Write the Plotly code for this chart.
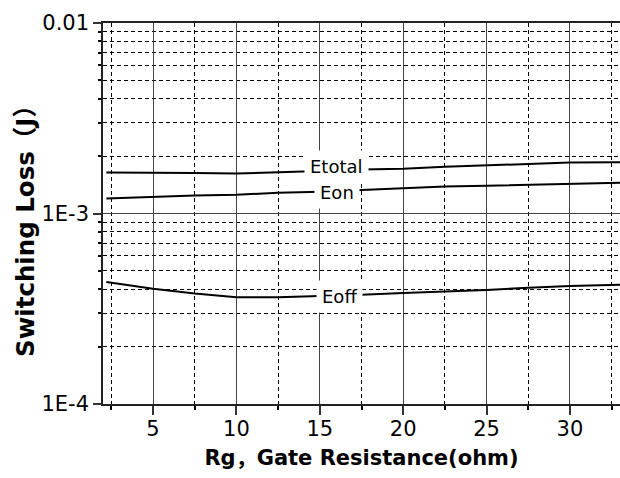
import math
import plotly.graph_objects as go

# ---- data ----
rg = [2.2, 5, 7.5, 10, 12.5, 15, 17.5, 20, 22.5, 25, 27.5, 30, 33]
etotal = [1.64e-3, 1.64e-3, 1.63e-3, 1.62e-3, 1.64e-3, 1.67e-3, 1.70e-3, 1.72e-3, 1.76e-3, 1.79e-3, 1.83e-3, 1.85e-3, 1.86e-3]
eon = [1.20e-3, 1.224e-3, 1.242e-3, 1.254e-3, 1.285e-3, 1.30e-3, 1.33e-3, 1.36e-3, 1.386e-3, 1.40e-3, 1.415e-3, 1.434e-3, 1.45e-3]
eoff = [4.37e-4, 4.03e-4, 3.80e-4, 3.63e-4, 3.63e-4, 3.67e-4, 3.74e-4, 3.82e-4, 3.88e-4, 3.97e-4, 4.07e-4, 4.16e-4, 4.23e-4]

series_names = ["Etotal", "Eon", "Eoff"]
label_x = [16.0, 16.05, 16.2]
label_y = [1.768e-3, 1.285e-3, 3.666e-4]

x_major = [5, 10, 15, 20, 25, 30]
x_minor = [2.5, 7.5, 12.5, 17.5, 22.5, 27.5, 32.5]
y_major = [1e-4, 1e-3, 1e-2]
y_major_text = ["1E-4", "1E-3", "0.01"]
y_minor = [m * 10 ** e for e in (-4, -3) for m in range(2, 10)]

CJK = "font-family:'Noto Sans CJK SC'"
x_title = "Rg<span style=\"%s\">，</span>Gate Resistance(ohm)" % CJK
y_title = "Switching Loss<span style=\"%s\">（</span>J<span style=\"%s\">）</span>" % (CJK, CJK)

W, H = 620, 478
ML, MR, MT, MB = 103, 0, 23, 74
PW, PH = W - ML - MR, H - MT - MB

fig = go.Figure()
for name, ys in zip(series_names, [etotal, eon, eoff]):
    fig.add_trace(go.Scatter(x=rg, y=ys, mode="lines", name=name,
                             line=dict(color="black", width=2), showlegend=False))

for name, lx, ly in zip(series_names, label_x, label_y):
    fig.add_annotation(x=lx, y=math.log10(ly), yref="y", xref="x", text=name, showarrow=False,
                       font=dict(family="DejaVu Sans", size=18, color="black"),
                       bgcolor="white", borderpad=5)

fig.add_annotation(x=(23 - ML) / PW, y=(H - MB - 225) / PH, xref="paper", yref="paper",
                   xanchor="center", yanchor="middle", text=y_title, showarrow=False,
                   textangle=-90,
                   font=dict(family="DejaVu Sans", size=24.5, color="black", weight="bold"))

fig.update_layout(
    width=W, height=H,
    margin=dict(l=ML, r=MR, t=MT, b=MB, autoexpand=False),
    paper_bgcolor="white", plot_bgcolor="white",
    font=dict(family="DejaVu Sans", color="black"),
)

fig.update_xaxes(
    range=[2, 33], tickmode="array", tickvals=x_major,
    ticks="outside", ticklen=9, tickwidth=1.5, tickcolor="#333",
    ticklabelstandoff=-4,
    tickfont=dict(family="DejaVu Sans", size=21, color="black"),
    showline=True, linecolor="#222", linewidth=1.5, mirror=True,
    showgrid=True, gridcolor="#444", gridwidth=1.3,
    zeroline=False,
    minor=dict(tickmode="array", tickvals=x_minor, showgrid=True, gridcolor="black",
               griddash="4px,3px", gridwidth=1, ticks="outside", ticklen=4, tickcolor="black"),
    title=dict(text=x_title, font=dict(family="DejaVu Sans", size=21, color="black", weight="bold"),
               standoff=8),
)
fig.update_yaxes(
    type="log", range=[-4, -2], tickmode="array", tickvals=y_major, ticktext=y_major_text,
    ticks="outside", ticklen=8, tickwidth=1.5, tickcolor="#333",
    tickfont=dict(family="DejaVu Sans", size=21, color="black"),
    showline=True, linecolor="#222", linewidth=1.5,
    showgrid=True, gridcolor="#444", gridwidth=1.3,
    zeroline=False,
    minor=dict(tickmode="array", tickvals=y_minor, showgrid=True, gridcolor="black",
               griddash="4px,3px", gridwidth=1, ticks="outside", ticklen=3, tickcolor="black"),
)

fig.write_html("out.html")
